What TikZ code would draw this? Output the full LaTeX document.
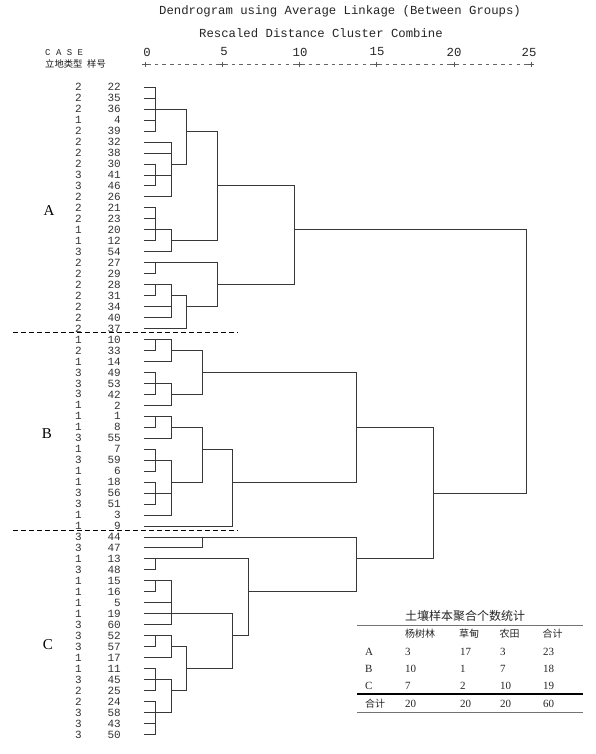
\documentclass[tikz,border=0pt]{standalone}
\usepackage{fontspec}
\newfontfamily\monof{Liberation Mono}
\newfontfamily\cjkf{Noto Sans CJK SC}
\newfontfamily\serf{Liberation Serif}
\def\xL{144}\def\xA{155.7}\def\xB{171.2}\def\xC{186.5}\def\xD{202}\def\xE{217.3}\def\xF{232.7}\def\xG{248.2}\def\xH{294.5}\def\xI{356.3}\def\xJ{433.3}\def\xK{526}
\tikzset{
  dl/.style={draw=black!78, line width=0.9pt, line cap=rect},
  lbl/.style={font=\monof\fontsize{11}{11}\selectfont, text=black!80, inner sep=0pt},
  hdr/.style={font=\monof\fontsize{12.3}{12.3}\selectfont, text=black!85, inner sep=0pt},
  casehdr/.style={font=\monof\fontsize{9}{9}\selectfont, text=black!85, inner sep=0pt},
  cjkhdr/.style={font=\cjkf\fontsize{9.3}{9.3}\selectfont, text=black!90, inner sep=0pt},
  grp/.style={font=\serf\fontsize{15}{15}\selectfont, inner sep=0pt},
  sep/.style={draw=black, line width=1.5pt, dash pattern=on 5pt off 3pt},
  tcj/.style={font=\cjkf\fontsize{10}{10}\selectfont, text=black!85, inner sep=0pt},
  tsr/.style={font=\serf\fontsize{11}{11}\selectfont, text=black!85, inner sep=0pt},
  rulethin/.style={draw=black!55, line width=0.6pt},
  rulethick/.style={draw=black, line width=1.1pt}
}
\newcommand\dH[3]{\draw[dl] (#1,{ry(#3)}) -- (#2,{ry(#3)});}
\newcommand\dV[3]{\draw[dl] (#1,{ry(#2)}) -- (#1,{ry(#3)});}
\begin{document}
\begin{tikzpicture}[x=1pt,y=-1pt, declare function={ry(\r)=87.2+10.97*\r;}]
\useasboundingbox (0,0) rectangle (595,754);
\fill[white] (0,0) rectangle (595,754);
% titles
\node[hdr] (title) at (340,11) {Dendrogram using Average Linkage (Between Groups)};
\node[hdr] (subtitle) at (321,33) {Rescaled Distance Cluster Combine};
\node[casehdr, anchor=west] (case) at (45,52.5) {C A S E};
\node[cjkhdr, anchor=west] (type) at (45,63.5) {立地类型};
\node[cjkhdr, anchor=west] (num) at (87,63.5) {样号};
\foreach \v/\px [count=\k from 0] in {0/147,5/224,10/300,15/377,20/454,25/529}{
  \node[hdr] (s\k) at (\px,52) {\v};
}
\draw[black!60, line width=0.5pt, dash pattern=on 3.6pt off 4.1pt, dash phase=-1.9pt] (145,64.5) -- (531,64.5);
\foreach \tx in {145,222.2,299.4,376.6,453.8,531}{
  \draw[black!65, line width=0.6pt] (\tx-2.6,64.5) -- (\tx+2.6,64.5) (\tx,62) -- (\tx,67);
}
% row labels
\foreach \t/\n [count=\i from 0] in {2/22,2/35,2/36,1/4,2/39,2/32,2/38,2/30,3/41,3/46,2/26,2/21,2/23,1/20,1/12,3/54,2/27,2/29,2/28,2/31,2/34,2/40,2/37,
 1/10,2/33,1/14,3/49,3/53,3/42,1/2,1/1,1/8,3/55,1/7,3/59,1/6,1/18,3/56,3/51,1/3,1/9,
 3/44,3/47,1/13,3/48,1/15,1/16,1/5,1/19,3/60,3/52,3/57,1/17,1/11,3/45,2/25,2/24,3/58,3/43,3/50}
{
  \node[lbl] (t\i) at (78.5,{ry(\i)}) {\t};
  \node[lbl, anchor=east] (n\i) at (121,{ry(\i)}) {\n};
}
% leaves
\foreach \a/\b/\r in {
 \xL/\xA/0,\xL/\xA/1,\xL/\xA/2,\xL/\xA/3,\xL/\xA/4,\xL/\xB/5,\xL/\xB/6,\xL/\xA/7,\xL/\xA/8,\xL/\xA/9,\xL/\xB/10,
 \xL/\xA/11,\xL/\xA/12,\xL/\xA/13,\xL/\xA/14,\xL/\xB/15,\xL/\xA/16,\xL/\xA/17,\xL/\xA/18,\xL/\xA/19,\xL/\xB/20,\xL/\xB/21,\xL/\xC/22,
 \xL/\xA/23,\xL/\xA/24,\xL/\xB/25,\xL/\xA/26,\xL/\xA/27,\xL/\xA/28,\xL/\xB/29,\xL/\xA/30,\xL/\xA/31,\xL/\xB/32,\xL/\xA/33,\xL/\xA/34,\xL/\xA/35,\xL/\xA/36,\xL/\xA/37,\xL/\xA/38,\xL/\xB/39,\xL/\xF/40,
 \xL/\xD/41,\xL/\xD/42,\xL/\xA/43,\xL/\xA/44,\xL/\xA/45,\xL/\xA/46,\xL/\xB/47,\xL/\xB/48,\xL/\xB/49,\xL/\xA/50,\xL/\xA/51,\xL/\xB/52,\xL/\xA/53,\xL/\xA/54,\xL/\xA/55,\xL/\xA/56,\xL/\xA/57,\xL/\xA/58,\xL/\xA/59}
{\dH{\a}{\b}{\r}}
% connectors
\foreach \a/\b/\r in {
 \xA/\xC/2,\xA/\xB/8,\xB/\xC/7,\xC/\xE/4,\xA/\xB/13,\xB/\xE/14,\xE/\xH/9,\xA/\xE/16,\xA/\xB/18,\xB/\xC/19,\xC/\xE/20,\xE/\xH/18,\xH/\xK/13,
 \xA/\xB/23,\xB/\xD/24,\xA/\xB/27,\xB/\xD/28,\xD/\xI/26,\xA/\xB/30,\xB/\xD/31,\xA/\xB/34,\xA/\xB/37,\xB/\xD/36,\xD/\xF/33,\xF/\xI/36,\xI/\xJ/31,
 \xD/\xI/41,\xA/\xG/43,\xA/\xB/45,\xB/\xF/48,\xA/\xB/50,\xB/\xC/51,\xA/\xB/54,\xA/\xB/57,\xB/\xC/55,\xC/\xF/53,\xF/\xG/50,\xG/\xI/46,\xI/\xJ/43,\xJ/\xK/37}
{\dH{\a}{\b}{\r}}
% verticals
\foreach \vx/\p/\q in {
 \xA/0/4,\xA/7/9,\xB/5/10,\xC/2/7,\xA/11/14,\xB/13/15,\xE/4/14,\xA/16/17,\xA/18/19,\xB/18/21,\xC/19/22,\xE/16/20,\xH/9/18,
 \xA/23/24,\xB/23/25,\xA/26/28,\xB/27/29,\xD/24/28,\xA/30/31,\xB/30/32,\xA/33/35,\xA/36/38,\xB/34/39,\xD/31/36,\xF/33/40,\xI/26/36,
 \xD/41/42,\xA/43/44,\xA/45/46,\xB/45/49,\xA/50/51,\xB/50/52,\xA/53/55,\xA/56/59,\xB/54/57,\xC/51/55,\xF/48/53,\xG/43/50,\xI/41/46,\xJ/31/43,\xK/13/37}
{\dV{\vx}{\p}{\q}}
% separators and group labels
\coordinate (sa1) at (13,332.5); \coordinate (sa2) at (238,332.5);
\coordinate (sb1) at (13,530.5); \coordinate (sb2) at (238,530.5);
\draw[sep] (sa1) -- (sa2);
\draw[sep] (sb1) -- (sb2);
\node[grp] (gA) at (49,211) {A};
\node[grp] (gB) at (47,434) {B};
\node[grp] (gC) at (48,645) {C};
% table
\node[font=\cjkf\fontsize{12}{12}\selectfont, text=black!85, inner sep=0pt] (ttl) at (465,616) {土壤样本聚合个数统计};
\coordinate (r1a) at (357,625.5); \coordinate (r1b) at (583,625.5);
\coordinate (r2a) at (357,694); \coordinate (r2b) at (583,694);
\coordinate (r3a) at (357,712.5); \coordinate (r3b) at (583,712.5);
\draw[rulethin] (r1a) -- (r1b);
\draw[rulethick] (r2a) -- (r2b);
\draw[rulethin] (r3a) -- (r3b);
\node[tcj] (h1) at (420,634) {杨树林};
\node[tcj] (h2) at (469,634) {草甸};
\node[tcj] (h3) at (509.5,634) {农田};
\node[tcj] (h4) at (552.5,634) {合计};
\foreach \lab/\va/\vb/\vc/\vd/\yy [count=\k] in {A/3/17/3/23/652.3, B/10/1/7/18/669, C/7/2/10/19/685.7}{
  \node[tsr, anchor=west] (rl\k) at (365,\yy) {\lab};
  \node[tsr, anchor=west] (ra\k) at (405,\yy) {\va};
  \node[tsr, anchor=west] (rb\k) at (460,\yy) {\vb};
  \node[tsr, anchor=west] (rc\k) at (500,\yy) {\vc};
  \node[tsr, anchor=west] (rd\k) at (543,\yy) {\vd};
}
\node[tcj, anchor=west] (tl) at (365,704) {合计};
\node[tsr, anchor=west] (ta) at (405,704) {20};
\node[tsr, anchor=west] (tb) at (460,704) {20};
\node[tsr, anchor=west] (tc) at (500,704) {20};
\node[tsr, anchor=west] (td) at (543,704) {60};
\end{tikzpicture}
\end{document}
